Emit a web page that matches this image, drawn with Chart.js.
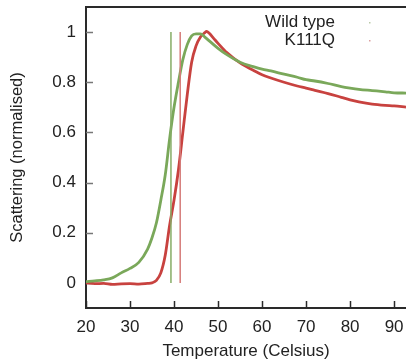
<!DOCTYPE html>
<html>
<head>
<meta charset="utf-8">
<script src="https://cdn.jsdelivr.net/npm/chart.js@4/dist/chart.umd.min.js"></script>
<style>
  html, body { margin: 0; padding: 0; background: #fff; }
  #wrap { width: 406px; height: 360px; }
</style>
</head>
<body>
<div id="wrap"><canvas id="c" width="406" height="360"></canvas></div>
<script>
// wild type scattering curve
const wtTemp = [20, 22, 24, 26, 28, 30, 32, 34, 35, 36, 37, 38, 39, 40, 41, 42, 43, 44, 45, 46, 47, 48, 50, 52, 55, 58, 60, 62, 65, 68, 70, 72, 75, 78, 80, 82, 85, 88, 90, 92.7];
const wtVal = [0.005, 0.008, 0.012, 0.02, 0.04, 0.058, 0.082, 0.135, 0.18, 0.24, 0.33, 0.43, 0.575, 0.7, 0.8, 0.89, 0.95, 0.985, 0.993, 0.993, 0.98, 0.965, 0.935, 0.91, 0.88, 0.862, 0.852, 0.845, 0.832, 0.82, 0.81, 0.805, 0.795, 0.783, 0.777, 0.772, 0.767, 0.762, 0.758, 0.757];

// K111Q scattering curve
const koTemp = [20, 22, 24, 26, 28, 30, 32, 34, 35, 36, 37, 38, 39, 40, 41, 42, 43, 44, 45, 46, 47, 47.4, 48, 49, 50, 52, 55, 58, 60, 62, 65, 68, 70, 72, 75, 78, 80, 82, 85, 88, 90, 92.7];
const koVal = [0.0, -0.003, -0.002, -0.006, -0.004, -0.003, -0.005, -0.002, 0.0, 0.01, 0.04, 0.11, 0.23, 0.33, 0.45, 0.6, 0.75, 0.88, 0.945, 0.98, 0.998, 1.003, 0.995, 0.975, 0.955, 0.918, 0.877, 0.848, 0.83, 0.817, 0.8, 0.785, 0.777, 0.768, 0.755, 0.74, 0.73, 0.722, 0.713, 0.708, 0.706, 0.701];

// midpoint markers
const wtMid = 39.3;
const koMid = 41.4;

const xTicks = [20, 30, 40, 50, 60, 70, 80, 90];
const yTicks = [0, 0.2, 0.4, 0.6, 0.8, 1];
const seriesNames = ["Wild type", "K111Q"];

const green = "#7aa85a";
const red = "#c8423f";
const axisColor = "#2a2a2a";
const textColor = "#222";
const fontFamily = "'Liberation Sans', Arial, sans-serif";

function pts(xs, ys) {
  return xs.map((x, i) => ({ x: x, y: ys[i] }));
}

const frame = {
  id: "frame",
  beforeDatasetsDraw(chart) {
    const { ctx, chartArea: a, scales } = chart;
    ctx.save();
    // top frame line
    ctx.strokeStyle = axisColor;
    ctx.lineWidth = 2;
    ctx.beginPath();
    ctx.moveTo(a.left, a.top);
    ctx.lineTo(a.right, a.top);
    ctx.stroke();
    // inward tick marks
    ctx.lineWidth = 1.5;
    ctx.strokeStyle = "#777";
    yTicks.forEach((v) => {
      const y = Math.round(scales.y.getPixelForValue(v)) + 0.5;
      ctx.beginPath();
      ctx.moveTo(a.left, y);
      ctx.lineTo(a.left + 7, y);
      ctx.stroke();
    });
    ctx.strokeStyle = axisColor;
    xTicks.forEach((v) => {
      const x = Math.round(scales.x.getPixelForValue(v)) + 0.5;
      ctx.beginPath();
      ctx.moveTo(x, a.bottom);
      ctx.lineTo(x, a.bottom - 7);
      ctx.stroke();
    });
    ctx.restore();
  },
  afterDraw(chart) {
    const { ctx } = chart;
    ctx.save();
    ctx.font = "17px " + fontFamily;
    ctx.fillStyle = textColor;
    ctx.textAlign = "right";
    ctx.textBaseline = "middle";
    ctx.fillText(seriesNames[0], 335, 22);
    ctx.fillText(seriesNames[1], 335, 40);
    ctx.fillStyle = "#b9c9a8";
    ctx.fillRect(369, 22, 1.5, 1.5);
    ctx.fillStyle = "#dca0a0";
    ctx.fillRect(369, 40, 1.5, 1.5);
    ctx.restore();
  }
};

new Chart(document.getElementById("c"), {
  type: "line",
  data: {
    datasets: [
      {
        label: seriesNames[0] + " mid",
        data: pts([wtMid, wtMid], [0, 1]),
        borderColor: "#86ad66",
        borderWidth: 1.5,
        pointRadius: 0
      },
      {
        label: seriesNames[1] + " mid",
        data: pts([koMid, koMid], [0, 1]),
        borderColor: "#d57a78",
        borderWidth: 1.5,
        pointRadius: 0
      },
      {
        label: seriesNames[0],
        data: pts(wtTemp, wtVal),
        borderColor: green,
        borderWidth: 2.8,
        pointRadius: 0,
        cubicInterpolationMode: "monotone"
      },
      {
        label: seriesNames[1],
        data: pts(koTemp, koVal),
        borderColor: red,
        borderWidth: 2.8,
        pointRadius: 0,
        cubicInterpolationMode: "monotone"
      }
    ]
  },
  options: {
    responsive: false,
    animation: false,
    devicePixelRatio: 1,
    layout: { padding: { top: 7, right: 0, bottom: 0, left: 0 }, autoPadding: false },
    plugins: { legend: { display: false }, tooltip: { enabled: false } },
    scales: {
      x: {
        type: "linear",
        min: 20,
        max: 92.7,
        afterBuildTicks: (s) => { s.ticks = xTicks.map((v) => ({ value: v })); },
        afterFit: (s) => { s.height = 52; s.paddingLeft = 0; s.paddingRight = 0; },
        grid: { display: false },
        border: { display: true, color: axisColor, width: 2 },
        ticks: { padding: 1, color: textColor, font: { family: fontFamily, size: 17 }, maxRotation: 0 },
        title: {
          display: true,
          text: "Temperature (Celsius)",
          color: textColor,
          font: { family: fontFamily, size: 17, lineHeight: 1 },
          padding: { top: 0, bottom: 0 }
        }
      },
      y: {
        min: -0.1,
        max: 1.1,
        afterBuildTicks: (s) => { s.ticks = yTicks.map((v) => ({ value: v })); },
        afterFit: (s) => { s.width = 86; s.paddingTop = 0; s.paddingBottom = 0; },
        grid: { display: false },
        border: { display: true, color: axisColor, width: 2 },
        ticks: { padding: 2, color: textColor, font: { family: fontFamily, size: 17 }, callback: (v) => String(v) },
        title: {
          display: true,
          text: "Scattering (normalised)",
          color: textColor,
          font: { family: fontFamily, size: 16.5, lineHeight: 1 },
          padding: { top: 9, bottom: 0 }
        }
      }
    }
  },
  plugins: [frame]
});
</script>
</body>
</html>
